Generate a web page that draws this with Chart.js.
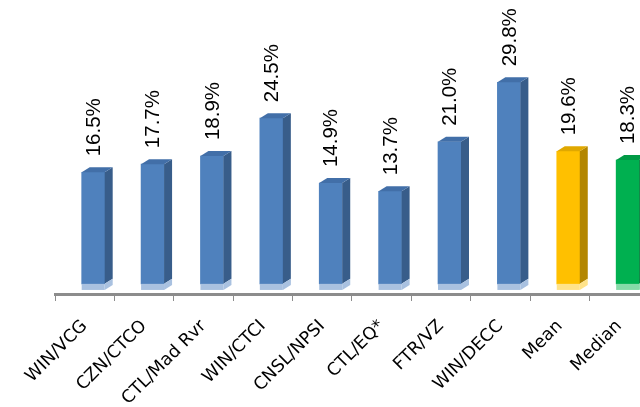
<!DOCTYPE html>
<html>
<head>
<meta charset="utf-8">
<script src="https://cdn.jsdelivr.net/npm/chart.js@4/dist/chart.umd.min.js"></script>
<style>
html, body { margin: 0; padding: 0; overflow: hidden; background: #fff; }
#wrap { position: relative; width: 649px; height: 407px; }
</style>
</head>
<body>
<div id="wrap"><canvas id="chart"></canvas></div>
<script>
// data
const categories = ['WIN/VCG', 'CZN/CTCO', 'CTL/Mad Rvr', 'WIN/CTCI', 'CNSL/NPSI', 'CTL/EQ*', 'FTR/VZ', 'WIN/DECC', 'Mean', 'Median'];
const values = [16.5, 17.7, 18.9, 24.5, 14.9, 13.7, 21.0, 29.8, 19.6, 18.3];

// colours: front, side, top, floor
const blue = ['#4f81bd', '#385d8a', '#426fa8', '#a9c1e0'];
const gold = ['#ffc000', '#b38600', '#e0a800', '#ffe38a'];
const green = ['#00b050', '#007a38', '#009a45', '#86dba8'];
const barStyles = categories.map(function(c) {
    if (c === 'Mean') return gold;
    if (c === 'Median') return green;
    return blue;
});

// fake 3d depth
const depthX = 8;
const depthY = 5;
const shiftX = 8.5;

const bar3d = {
    id: 'bar3d',
    beforeDatasetsDraw(chart) {
        chart.ctx.save();
        chart.ctx.translate(shiftX, 0);
    },
    afterDatasetsDraw(chart) {
        const ctx = chart.ctx;
        const meta = chart.getDatasetMeta(0);
        const floorY = chart.scales.y.getPixelForValue(-0.9);

        meta.data.forEach(function(el, i) {
            const s = barStyles[i];
            const left = el.x - el.width / 2;
            const right = el.x + el.width / 2;

            // floor band under the front face
            ctx.fillStyle = s[3];
            ctx.fillRect(left, el.base, el.width, floorY - el.base);

            // side
            ctx.fillStyle = s[1];
            ctx.beginPath();
            ctx.moveTo(right, el.y);
            ctx.lineTo(right + depthX, el.y - depthY);
            ctx.lineTo(right + depthX, el.base - depthY);
            ctx.lineTo(right, el.base);
            ctx.closePath();
            ctx.fill();

            ctx.fillStyle = s[3];
            ctx.beginPath();
            ctx.moveTo(right, el.base);
            ctx.lineTo(right + depthX, el.base - depthY);
            ctx.lineTo(right + depthX, floorY - depthY);
            ctx.lineTo(right, floorY);
            ctx.closePath();
            ctx.fill();

            // top
            ctx.fillStyle = s[2];
            ctx.beginPath();
            ctx.moveTo(left, el.y);
            ctx.lineTo(left + depthX, el.y - depthY);
            ctx.lineTo(right + depthX, el.y - depthY);
            ctx.lineTo(right, el.y);
            ctx.closePath();
            ctx.fill();

            // value label
            ctx.save();
            ctx.translate(el.x + 1, el.y - 16);
            ctx.rotate(-Math.PI / 2);
            ctx.fillStyle = '#000';
            ctx.font = '20.5px "Liberation Sans", Arial, sans-serif';
            ctx.textAlign = 'left';
            ctx.textBaseline = 'middle';
            ctx.fillText(values[i].toFixed(1) + '%', 0, 0);
            ctx.restore();
        });

        ctx.restore();
    }
};

new Chart(document.getElementById('chart'), {
    type: 'bar',
    data: {
        labels: categories,
        datasets: [{
            data: values,
            backgroundColor: barStyles.map(function(s) { return s[0]; }),
            barThickness: 23,
            borderWidth: 0
        }]
    },
    options: {
        responsive: true,
        maintainAspectRatio: false,
        devicePixelRatio: 1,
        animation: false,
        layout: {
            autoPadding: false,
            padding: { left: 55, top: 10, right: 0, bottom: 0 }
        },
        plugins: {
            legend: { display: false },
            tooltip: { enabled: false }
        },
        scales: {
            x: {
                offset: true,
                grid: {
                    offset: true,
                    drawOnChartArea: false,
                    drawTicks: true,
                    tickLength: 7,
                    color: '#8c8c8c',
                    lineWidth: 1
                },
                border: { display: true, color: '#8c8c8c', width: 3 },
                ticks: {
                    autoSkip: false,
                    maxRotation: 45,
                    minRotation: 45,
                    color: '#000',
                    padding: 15,
                    font: { family: '"DejaVu Sans", Tahoma, sans-serif', size: 17.5 }
                },
                afterFit: function(scale) { scale.height = 113; }
            },
            y: {
                display: false,
                min: -1.5,
                max: 40.5
            }
        }
    },
    plugins: [bar3d]
});
</script>
</body>
</html>
